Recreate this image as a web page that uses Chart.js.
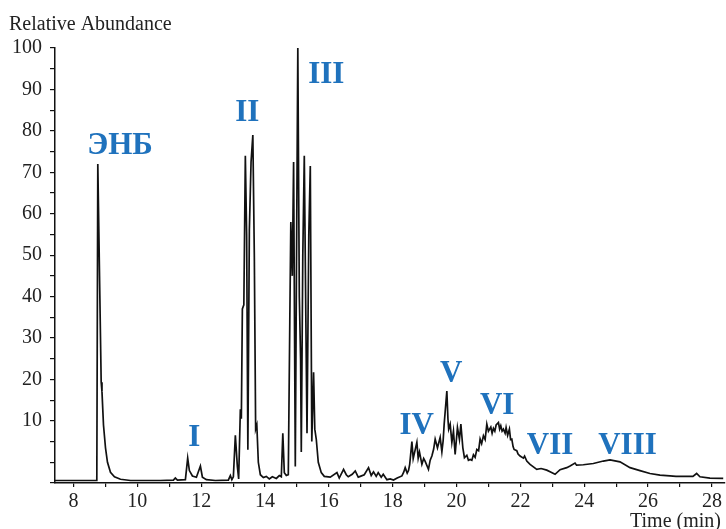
<!DOCTYPE html>
<html>
<head>
<meta charset="utf-8">
<script src="https://cdn.jsdelivr.net/npm/chart.js@4.4.1/dist/chart.umd.min.js"></script>
<style>
  html, body { margin: 0; padding: 0; background: #ffffff; }
  canvas { display: block; }
</style>
</head>
<body>
<canvas id="c" width="726" height="529"></canvas>
<script>
// Retention time (min)
const retentionTime = [
  7.42, 8.73, 8.761, 8.867, 8.892, 8.939, 9.002, 9.064, 9.158, 9.283,
  9.471, 9.784, 10.72, 11.13, 11.19, 11.255, 11.505, 11.577, 11.63, 11.725,
  11.85, 11.975, 12.038, 12.163, 12.444, 12.85, 12.914, 12.96, 13.008, 13.07,
  13.133, 13.174, 13.227, 13.258, 13.29, 13.336, 13.383, 13.424, 13.462, 13.509,
  13.562, 13.618, 13.665, 13.706, 13.743, 13.79, 13.853, 13.947, 14.04, 14.134,
  14.228, 14.354, 14.447, 14.51, 14.557, 14.604, 14.667, 14.729, 14.776, 14.808,
  14.854, 14.895, 14.948, 14.995, 15.027, 15.074, 15.114, 15.136, 15.183, 15.23,
  15.277, 15.315, 15.371, 15.418, 15.465, 15.521, 15.559, 15.606, 15.668, 15.762,
  15.856, 16.044, 16.253, 16.325, 16.46, 16.545, 16.607, 16.732, 16.826, 16.92,
  16.983, 17.108, 17.242, 17.327, 17.399, 17.483, 17.546, 17.64, 17.703, 17.818,
  17.922, 18.025, 18.14, 18.288, 18.344, 18.391, 18.454, 18.495, 18.532, 18.601,
  18.642, 18.689, 18.757, 18.798, 18.839, 18.914, 18.97, 19.017, 19.12, 19.174,
  19.227, 19.283, 19.33, 19.402, 19.487, 19.54, 19.58, 19.612, 19.696, 19.73,
  19.753, 19.8, 19.853, 19.903, 19.956, 20.028, 20.091, 20.135, 20.197, 20.247,
  20.322, 20.372, 20.426, 20.479, 20.529, 20.582, 20.635, 20.691, 20.738, 20.786,
  20.842, 20.895, 20.948, 20.998, 21.073, 21.114, 21.155, 21.199, 21.24, 21.312,
  21.35, 21.386, 21.427, 21.468, 21.521, 21.552, 21.6, 21.656, 21.693, 21.731,
  21.771, 21.803, 21.887, 21.927, 21.99, 22.094, 22.131, 22.2, 22.303, 22.513,
  22.648, 22.826, 22.961, 23.086, 23.243, 23.452, 23.556, 23.712, 23.759, 23.972,
  24.285, 24.598, 24.808, 25.12, 25.434, 25.746, 26.059, 26.373, 26.686, 26.874,
  27.102, 27.405, 27.521, 27.625, 27.937, 28.354
];
// Relative abundance (%)
const relativeAbundance = [
  -4.4, -4.4, 72, 19.3, 17, 9, 3.5, 0, -2.4, -3.5,
  -4.1, -4.4, -4.4, -4.3, -3.8, -4.3, -4.2, 1.0, -2.0, -3.3,
  -3.6, -0.9, -3.6, -4.2, -4.4, -4.3, -3.2, -4.2, -3.5, 6.5,
  -1.0, -4.0, 12.8, 10.5, 37, 38, 74, 55, 3, 56,
  72.5, 79, 49.5, 8, 9, 0, -3.0, -3.7, -3.4, -4.0,
  -3.5, -3.9, -3.2, -3.5, 7, -2.5, -3.2, -3.0, 34, 58,
  45, 72.5, -1, 60, 100, 40, 25, 2.5, 50, 74,
  36, 7, 55, 71.5, 5, 21.7, 8, 5.5, 0, -2.5,
  -3.4, -3.6, -2.5, -3.8, -1.7, -3.0, -3.5, -2.9, -2.1, -3.6,
  -3.4, -3.0, -1.3, -3.2, -2.3, -3.4, -2.5, -3.6, -2.9, -4.2,
  -4.0, -4.3, -3.8, -3.3, -2.4, -1.3, -2.6, -2.0, -0.5, 5,
  0.9, 2.5, 4.8, 1.0, 2.5, -0.5, 0.9, 0.2, -1.7, 0.5,
  1.5, 3.2, 5.6, 3.5, 6, 2.5, 5.2, 9.2, 17.2, 10.5,
  8, 9.2, 4.8, 7.5, 1.9, 8.4, 5.5, 9.2, 3.5, 1.1,
  1.7, 0.5, 0.7, 0.5, 1.8, 1.2, 3.1, 2.8, 5.6, 4.5,
  6.4, 5.5, 9.2, 7.5, 8.5, 7.0, 8.2, 7.5, 9.0, 9.6,
  8.0, 8.8, 7.5, 8.0, 7.0, 8.4, 6.5, 8.0, 5.5, 5.6,
  3.8, 3.1, 2.8, 2.0, 1.5, 1.0, 1.5, 0.3, -0.5, -1.7,
  -1.5, -1.9, -2.4, -2.9, -1.8, -1.3, -0.9, -0.2, -0.7, -0.6,
  -0.3, 0.3, 0.6, 0.1, -1.3, -2.0, -2.7, -3.1, -3.3, -3.4,
  -3.4, -3.4, -2.7, -3.5, -3.8, -3.9
];
// Peak labels and their anchor (time, abundance)
const peakNames = ['ЭНБ', 'I', 'II', 'III', 'IV', 'V', 'VI', 'VII', 'VIII'];
const peakLabelTime = [9.455, 11.787, 13.446, 15.919, 18.751, 19.831, 21.271, 22.93, 25.355];
const peakLabelLevel = [74.3, 3.9, 82.3, 91.5, 6.8, 19.3, 11.6, 1.9, 1.9];
// Tick labels
const xTickLabels = [8, 10, 12, 14, 16, 18, 20, 22, 24, 26, 28];
const yTickLabels = [10, 20, 30, 40, 50, 60, 70, 80, 90, 100];

const points = retentionTime.map((t, i) => ({ x: t, y: relativeAbundance[i] }));

const textPlugin = {
  id: 'texts',
  afterDraw(chart) {
    const ctx = chart.ctx;
    const xs = chart.scales.x, ys = chart.scales.y;
    ctx.save();
    ctx.fillStyle = '#222';
    ctx.font = '20px "Liberation Serif"';
    ctx.textAlign = 'left';
    ctx.textBaseline = 'alphabetic';
    ctx.fillText('Relative Abundance', 9, 30);
    ctx.fillText('Time (min)', 630, 527);
    ctx.fillStyle = '#1f72bd';
    ctx.font = 'bold 31px "Liberation Serif"';
    ctx.textAlign = 'center';
    peakNames.forEach((name, i) => {
      ctx.fillText(name, xs.getPixelForValue(peakLabelTime[i]), ys.getPixelForValue(peakLabelLevel[i]));
    });
    ctx.restore();
  }
};

new Chart(document.getElementById('c'), {
  type: 'line',
  data: {
    datasets: [{
      data: points,
      borderColor: '#111',
      borderWidth: 1.7,
      pointRadius: 0,
      tension: 0,
      fill: false
    }]
  },
  options: {
    responsive: false,
    animation: false,
    events: [],
    layout: { autoPadding: false, padding: { left: 0, right: 1, top: 48, bottom: 0 } },
    plugins: { legend: { display: false }, tooltip: { enabled: false }, title: { display: false } },
    scales: {
      x: {
        type: 'linear',
        min: 7.42,
        max: 28.41,
        afterFit(scale) { scale.height = 46; },
        border: { display: true, color: '#111', width: 1.5 },
        grid: { drawOnChartArea: false, drawTicks: true, tickLength: 4, color: '#111', lineWidth: 1.2 },
        ticks: {
          stepSize: 1,
          includeBounds: false,
          autoSkip: false,
          maxRotation: 0,
          padding: 3,
          color: '#222',
          font: { family: '"Liberation Serif"', size: 20 },
          callback: (v) => {
            const r = Math.round(v);
            return (Math.abs(v - r) < 1e-6 && xTickLabels.includes(r)) ? String(r) : '';
          }
        }
      },
      y: {
        type: 'linear',
        min: -5,
        max: 100,
        afterFit(scale) { scale.width = 55; },
        border: { display: true, color: '#111', width: 1.5 },
        grid: { drawOnChartArea: false, drawTicks: true, tickLength: 5, color: '#111', lineWidth: 1.2 },
        ticks: {
          stepSize: 5,
          autoSkip: false,
          padding: 8,
          color: '#222',
          font: { family: '"Liberation Serif"', size: 20 },
          callback: (v) => {
            const r = Math.round(v);
            return (Math.abs(v - r) < 1e-6 && yTickLabels.includes(r)) ? String(r) : '';
          }
        }
      }
    }
  },
  plugins: [textPlugin]
});
</script>
</body>
</html>
